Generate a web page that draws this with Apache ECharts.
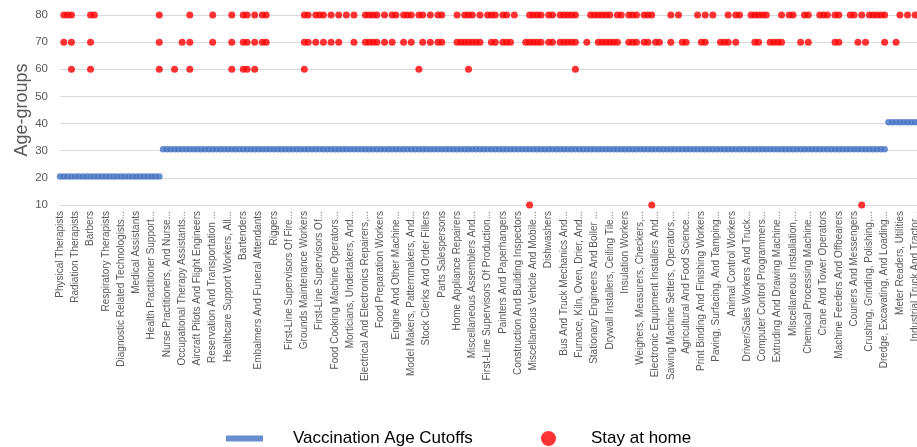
<!DOCTYPE html>
<html><head><meta charset="utf-8">
<script src="https://cdn.jsdelivr.net/npm/echarts@6/dist/echarts.min.js"></script>
<style>html,body{margin:0;padding:0;background:#fff}#c{width:917px;height:447px}</style>
</head><body><div id="c"></div>
<script>
// Occupations shown on the axis (every 4th of the categories carries a visible label)
const labeledCategories = [
  "Physical Therapists", "Radiation Therapists", "Barbers", "Respiratory Therapists",
  "Diagnostic Related Technologists...", "Medical Assistants", "Health Practitioner Support...",
  "Nurse Practitioners, And Nurse...", "Occupational Therapy Assistants...",
  "Aircraft Pilots And Flight Engineers", "Reservation And Transportation ...",
  "Healthcare Support Workers, All...", "Bartenders", "Embalmers And Funeral Attendants",
  "Riggers", "First-Line Supervisors Of Fire...", "Grounds Maintenance Workers",
  "First-Line Supervisors Of...", "Food Cooking Machine Operators...",
  "Morticians, Undertakers, And...", "Electrical And Electronics Repairers,...",
  "Food Preparation Workers", "Engine And Other Machine...", "Model Makers, Patternmakers, And...",
  "Stock Clerks And Order Fillers", "Parts Salespersons", "Home Appliance Repairers",
  "Miscellaneous Assemblers And...", "First-Line Supervisors Of Production...",
  "Painters And Paperhangers", "Construction And Building Inspectors",
  "Miscellaneous Vehicle And Mobile...", "Dishwashers", "Bus And Truck Mechanics And...",
  "Furnace, Kiln, Oven, Drier, And...", "Stationary Engineers And Boiler ...",
  "Drywall Installers, Ceiling Tile...", "Insulation Workers", "Weighers, Measurers, Checkers,...",
  "Electronic Equipment Installers And...", "Sawing Machine Setters, Operators,...",
  "Agricultural And Food Science...", "Print Binding And Finishing Workers",
  "Paving, Surfacing, And Tamping...", "Animal Control Workers", "Driver/Sales Workers And Truck...",
  "Computer Control Programmers...", "Extruding And Drawing Machine...",
  "Miscellaneous Installation,...", "Chemical Processing Machine...", "Crane And Tower Operators",
  "Machine Feeders And Offbearers", "Couriers And Messengers", "Crushing, Grinding, Polishing,...",
  "Dredge, Excavating, And Loading...", "Meter Readers, Utilities", "Industrial Truck And Tractor..."
];
const categoryCount = 226;
const labelEvery = 4;

// Vaccination age cutoff for each occupation (one value per category)
const cutoffValues = [
  20.5,20.5,20.5,20.5,20.5,20.5,20.5,20.5,20.5,20.5,
  20.5,20.5,20.5,20.5,20.5,20.5,20.5,20.5,20.5,20.5,
  20.5,20.5,20.5,20.5,20.5,20.5,20.5,
  30.5,30.5,30.5,30.5,30.5,30.5,30.5,30.5,30.5,30.5,
  30.5,30.5,30.5,30.5,30.5,30.5,30.5,30.5,30.5,30.5,
  30.5,30.5,30.5,30.5,30.5,30.5,30.5,30.5,30.5,30.5,
  30.5,30.5,30.5,30.5,30.5,30.5,30.5,30.5,30.5,30.5,
  30.5,30.5,30.5,30.5,30.5,30.5,30.5,30.5,30.5,30.5,
  30.5,30.5,30.5,30.5,30.5,30.5,30.5,30.5,30.5,30.5,
  30.5,30.5,30.5,30.5,30.5,30.5,30.5,30.5,30.5,30.5,
  30.5,30.5,30.5,30.5,30.5,30.5,30.5,30.5,30.5,30.5,
  30.5,30.5,30.5,30.5,30.5,30.5,30.5,30.5,30.5,30.5,
  30.5,30.5,30.5,30.5,30.5,30.5,30.5,30.5,30.5,30.5,
  30.5,30.5,30.5,30.5,30.5,30.5,30.5,30.5,30.5,30.5,
  30.5,30.5,30.5,30.5,30.5,30.5,30.5,30.5,30.5,30.5,
  30.5,30.5,30.5,30.5,30.5,30.5,30.5,30.5,30.5,30.5,
  30.5,30.5,30.5,30.5,30.5,30.5,30.5,30.5,30.5,30.5,
  30.5,30.5,30.5,30.5,30.5,30.5,30.5,30.5,30.5,30.5,
  30.5,30.5,30.5,30.5,30.5,30.5,30.5,30.5,30.5,30.5,
  30.5,30.5,30.5,30.5,30.5,30.5,30.5,30.5,30.5,30.5,
  30.5,30.5,30.5,30.5,30.5,30.5,30.5,30.5,30.5,30.5,
  30.5,30.5,30.5,30.5,30.5,30.5,30.5,30.5,30.5,30.5,
  40.5,40.5,40.5,40.5,40.5,40.5,40.5,40.5,40.5
];

// "Stay at home" ages: category indices that have a dot at each age
const stayAt80 = [1,2,3,8,9,26,34,40,45,48,49,51,53,54,64,65,67,68,69,71,73,75,77,80,81,82,83,85,87,88,
  90,91,92,94,95,97,99,100,104,106,107,108,110,112,113,114,116,117,119,123,124,125,126,128,129,
  131,132,133,134,135,139,140,141,142,143,144,146,147,149,150,151,153,154,155,160,162,167,169,171,
  175,177,178,181,182,183,184,185,189,191,192,195,196,199,200,201,203,204,207,208,210,
  212,213,214,215,216,220,222,224];
const stayAt70 = [1,3,8,26,32,34,40,45,48,49,51,53,54,64,65,67,69,71,73,77,80,81,82,83,85,87,90,92,95,97,
  99,100,104,105,106,107,108,109,110,113,114,116,117,118,122,123,124,125,126,128,129,131,132,133,134,135,
  138,141,142,143,144,145,146,149,150,151,153,154,156,157,160,163,164,168,169,173,174,175,177,
  182,183,186,187,188,189,194,196,203,204,209,211,216,219];
const stayAt60 = [3,8,26,30,34,45,48,49,51,64,94,107,135];
const stayAt10 = [123,155,210];

const categories = [];
for (let i = 0; i < categoryCount; i++) {
  categories.push(i % labelEvery === 0 ? labeledCategories[i / labelEvery] : '');
}
const stayData = [];
[[stayAt80, 80], [stayAt70, 70], [stayAt60, 60], [stayAt10, 10]].forEach(([list, age]) => {
  list.forEach(i => stayData.push([i, age]));
});

const chart = echarts.init(document.getElementById('c'), null, {renderer: 'canvas'});
const font = 'Liberation Sans';
chart.setOption({
  animation: false,
  textStyle: {fontFamily: font},
  grid: {left: 60, right: -2, top: 15, bottom: 242, containLabel: false, outerBoundsMode: 'none'},
  xAxis: {
    type: 'category', data: categories, boundaryGap: false,
    axisLine: {show: true, lineStyle: {color: '#d9d9d9', width: 1}},
    axisTick: {show: false},
    axisLabel: {interval: labelEvery - 1, rotate: 90, fontSize: 10, color: '#595959', margin: 6, fontFamily: font},
    splitLine: {show: false}
  },
  yAxis: {
    type: 'value', min: 10, max: 80, interval: 10,
    name: 'Age-groups', nameLocation: 'middle', nameGap: 29, nameMoveOverlap: false,
    nameTextStyle: {fontSize: 18, color: '#595959', fontFamily: font},
    axisLabel: {fontSize: 11.5, color: '#595959', margin: 12, fontFamily: font},
    axisLine: {show: false}, axisTick: {show: false},
    splitLine: {lineStyle: {color: '#d9d9d9', width: 1}}
  },
  legend: [
    {data: ['Vaccination Age Cutoffs'], left: 226, top: 430, padding: 0,
     icon: 'rect', itemWidth: 37, itemHeight: 6,
     textStyle: {fontSize: 17, color: '#000', fontFamily: font, padding: [0, 0, 0, 25]}},
    {data: ['Stay at home'], left: 541, top: 430, padding: 0,
     icon: 'circle', itemWidth: 15, itemHeight: 15,
     textStyle: {fontSize: 17, color: '#000', fontFamily: font, padding: [0, 0, 0, 30]}}
  ],
  series: [
    {name: 'Vaccination Age Cutoffs', type: 'scatter', data: cutoffValues,
     symbol: 'circle', symbolSize: 6.5, itemStyle: {color: '#4472C4'}, z: 2},
    {name: 'Stay at home', type: 'scatter', data: stayData,
     symbol: 'circle', symbolSize: 7, itemStyle: {color: '#FF0000'}, z: 3}
  ]
});
</script></body></html>
